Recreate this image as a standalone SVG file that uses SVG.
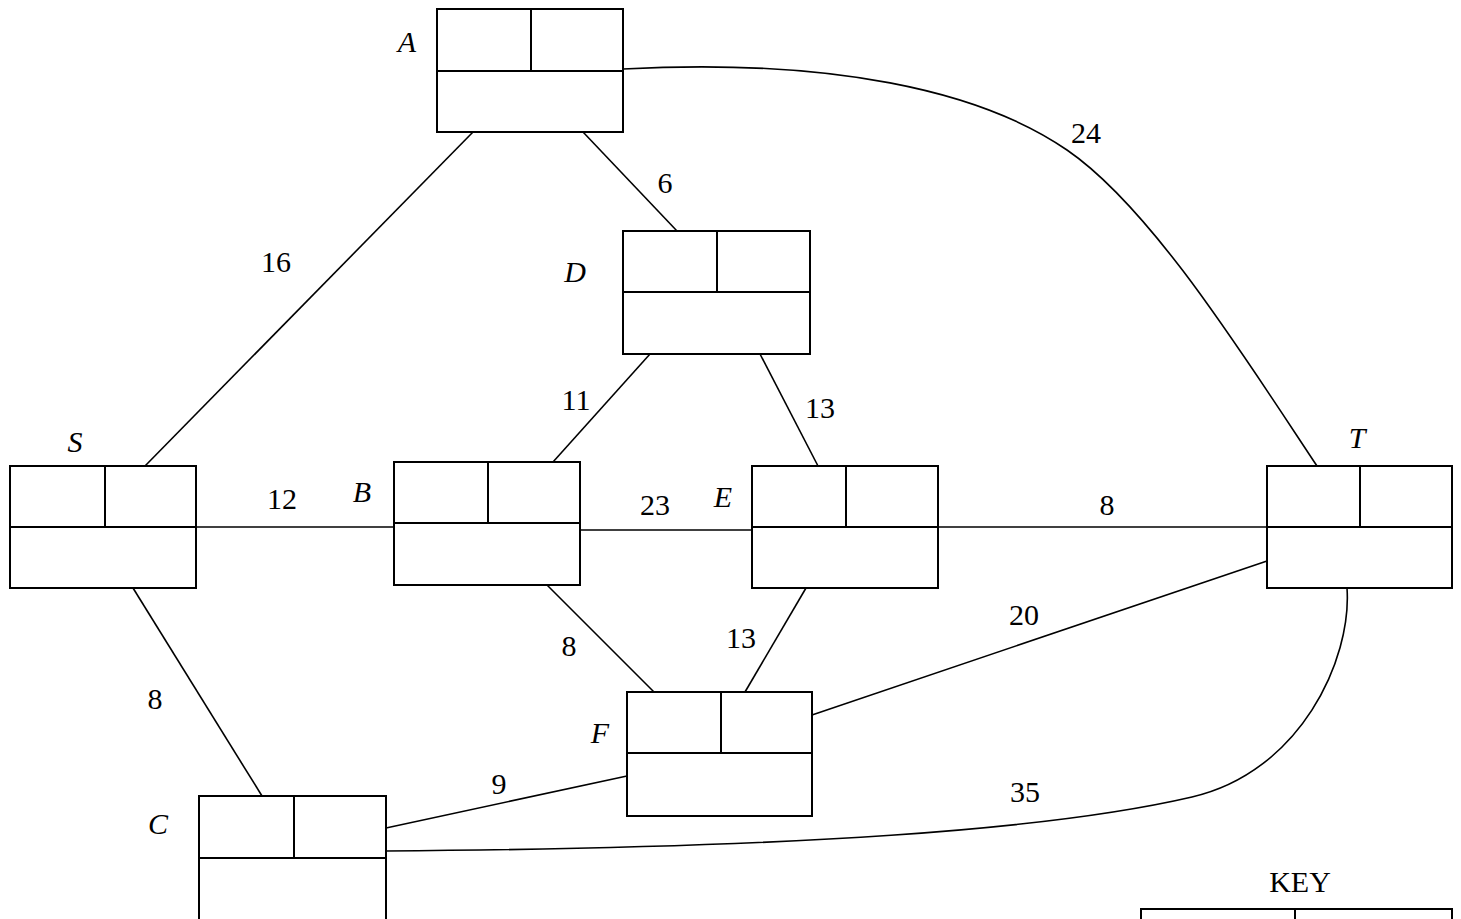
<svg xmlns="http://www.w3.org/2000/svg" width="1461" height="919" viewBox="0 0 1461 919">
<style>
.box{fill:#fff;stroke:#000;stroke-width:2}
.div{stroke:#000;stroke-width:2;fill:none}
.edge{stroke:#000;stroke-width:1.6;fill:none}
.w{font-family:"Liberation Serif","Times New Roman",serif;font-size:30px;fill:#000;text-anchor:middle}
.n{font-family:"Liberation Serif","Times New Roman",serif;font-size:30px;font-style:italic;fill:#000;text-anchor:middle}
</style>
<rect width="1461" height="919" fill="#fff"/>
<g id="connectors">
<line class="edge" x1="473" y1="132" x2="145" y2="466"/>
<line class="edge" x1="583" y1="132" x2="677" y2="231"/>
<path class="edge" d="M623,69 C830,58 980,90 1067,150 C1150,207 1240,350 1317,466"/>
<line class="edge" x1="650" y1="354" x2="553" y2="462"/>
<line class="edge" x1="760" y1="354" x2="818" y2="466"/>
<line class="edge" x1="196" y1="527" x2="394" y2="527"/>
<line class="edge" x1="580" y1="530" x2="752" y2="530"/>
<line class="edge" x1="938" y1="527" x2="1267" y2="527"/>
<line class="edge" x1="133" y1="588" x2="262" y2="796"/>
<line class="edge" x1="547" y1="585" x2="654" y2="692"/>
<line class="edge" x1="806" y1="588" x2="745" y2="692"/>
<line class="edge" x1="812" y1="715" x2="1267" y2="561"/>
<line class="edge" x1="386" y1="828" x2="627" y2="776"/>
<path class="edge" d="M386,851 C800,848 1050,830 1192,797 C1300,772 1352,660 1347,588"/>
</g>
<g id="labels">
<text class="w" x="276" y="272">16</text>
<text class="w" x="665" y="193">6</text>
<text class="w" x="1086" y="143">24</text>
<text class="w" x="576" y="410">11</text>
<text class="w" x="820" y="418">13</text>
<text class="w" x="282" y="509">12</text>
<text class="w" x="655" y="515">23</text>
<text class="w" x="1107" y="515">8</text>
<text class="w" x="569" y="656">8</text>
<text class="w" x="741" y="648">13</text>
<text class="w" x="1024" y="625">20</text>
<text class="w" x="155" y="709">8</text>
<text class="w" x="499" y="794">9</text>
<text class="w" x="1025" y="802">35</text>
</g>
<g id="node-A">
<rect class="box" x="437" y="9" width="186" height="123"/>
<line class="div" x1="437" y1="71" x2="623" y2="71"/>
<line class="div" x1="531" y1="9" x2="531" y2="71"/>
<text class="n" x="407" y="52">A</text>
</g>
<g id="node-D">
<rect class="box" x="623" y="231" width="187" height="123"/>
<line class="div" x1="623" y1="292" x2="810" y2="292"/>
<line class="div" x1="717" y1="231" x2="717" y2="292"/>
<text class="n" x="575" y="282">D</text>
</g>
<g id="node-S">
<rect class="box" x="10" y="466" width="186" height="122"/>
<line class="div" x1="10" y1="527" x2="196" y2="527"/>
<line class="div" x1="105" y1="466" x2="105" y2="527"/>
<text class="n" x="75" y="452">S</text>
</g>
<g id="node-B">
<rect class="box" x="394" y="462" width="186" height="123"/>
<line class="div" x1="394" y1="523" x2="580" y2="523"/>
<line class="div" x1="488" y1="462" x2="488" y2="523"/>
<text class="n" x="362" y="502">B</text>
</g>
<g id="node-E">
<rect class="box" x="752" y="466" width="186" height="122"/>
<line class="div" x1="752" y1="527" x2="938" y2="527"/>
<line class="div" x1="846" y1="466" x2="846" y2="527"/>
<text class="n" x="723" y="507">E</text>
</g>
<g id="node-T">
<rect class="box" x="1267" y="466" width="185" height="122"/>
<line class="div" x1="1267" y1="527" x2="1452" y2="527"/>
<line class="div" x1="1360" y1="466" x2="1360" y2="527"/>
<text class="n" x="1357" y="448">T</text>
</g>
<g id="node-F">
<rect class="box" x="627" y="692" width="185" height="124"/>
<line class="div" x1="627" y1="753" x2="812" y2="753"/>
<line class="div" x1="721" y1="692" x2="721" y2="753"/>
<text class="n" x="600" y="743">F</text>
</g>
<g id="node-C">
<rect class="box" x="199" y="796" width="187" height="140"/>
<line class="div" x1="199" y1="858" x2="386" y2="858"/>
<line class="div" x1="294" y1="796" x2="294" y2="858"/>
<text class="n" x="158" y="834">C</text>
</g>
<g id="key">
<text class="w" x="1300" y="892">KEY</text>
<rect class="box" x="1141" y="909" width="311" height="40"/>
<line class="div" x1="1295" y1="909" x2="1295" y2="919"/>
</g>
</svg>
